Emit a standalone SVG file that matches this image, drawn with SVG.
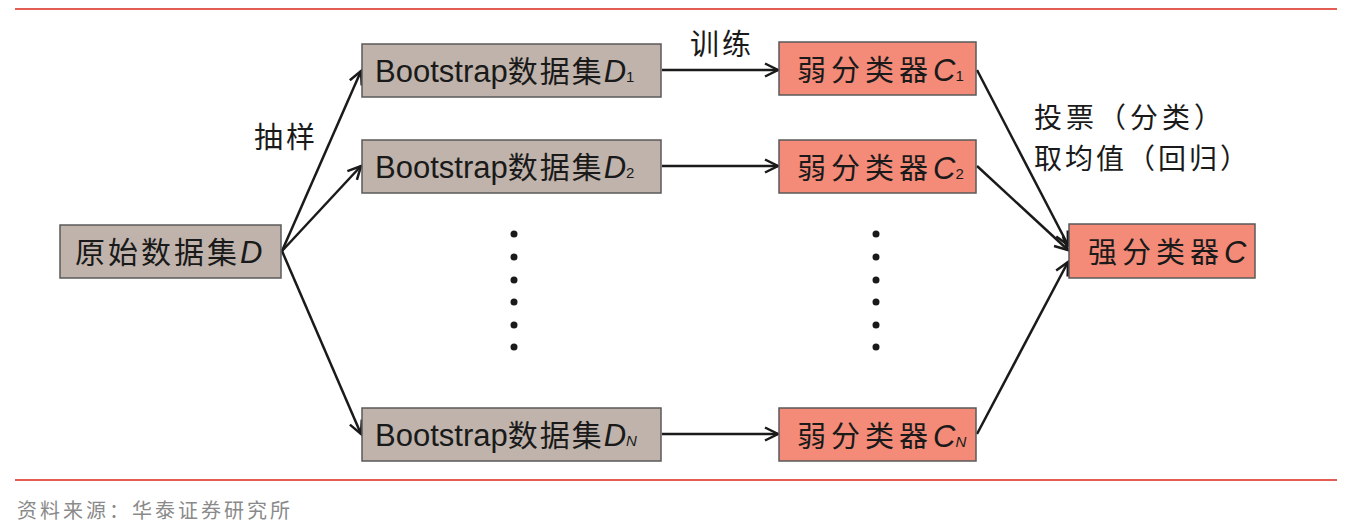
<svg xmlns="http://www.w3.org/2000/svg" width="1350" height="532" viewBox="0 0 1350 532">
<style>
.gray{fill:#bfb3ab;stroke:#5a5a5a;stroke-width:1.5}
.red{fill:#f38b78;stroke:#5a5a5a;stroke-width:1.5}
.cjk{font-family:"Noto Sans CJK SC",sans-serif;font-size:30px;fill:#1a1a1a}
.lat{font-family:"Liberation Sans",Arial,sans-serif;font-size:31px;fill:#1a1a1a}
.it{font-family:"Liberation Sans",Arial,sans-serif;font-style:italic;font-size:31px;fill:#1a1a1a}
.sub{font-family:"Liberation Sans",Arial,sans-serif;font-size:15px;fill:#1a1a1a}
.subi{font-family:"Liberation Sans",Arial,sans-serif;font-style:italic;font-size:15px;fill:#1a1a1a}
.lbl{font-family:"Noto Sans CJK SC",sans-serif;font-size:28px;fill:#1a1a1a}
.edge{stroke:#1a1a1a;stroke-width:2.5;fill:none;marker-end:url(#arr)}
.dot{fill:#1a1a1a}
</style>
<defs>
<marker id="arr" markerUnits="userSpaceOnUse" markerWidth="18" markerHeight="16" refX="14" refY="7.5" orient="auto" viewBox="0 0 18 15">
<path d="M1,1 L14,7.5 L1,14" fill="none" stroke="#1a1a1a" stroke-width="2.5"/>
</marker>
</defs>
<rect width="1350" height="532" fill="#ffffff"/>
<line x1="15" y1="9" x2="1337" y2="9" stroke="#d9291c" stroke-width="1.5"/>
<line x1="15" y1="480" x2="1337" y2="480" stroke="#d9291c" stroke-width="1.5"/>
<text x="17" y="518" style="font-family:'Noto Sans CJK SC',sans-serif;font-size:20px;fill:#8a8a8a;letter-spacing:3px">资料来源：华泰证券研究所</text>

<g id="connectors">
<line class="edge" x1="282" y1="251" x2="361" y2="71"/>
<line class="edge" x1="282" y1="251" x2="361" y2="166"/>
<line class="edge" x1="282" y1="251" x2="361" y2="434"/>
<line class="edge" x1="662" y1="70" x2="778" y2="70"/>
<line class="edge" x1="662" y1="166" x2="778" y2="166"/>
<line class="edge" x1="662" y1="434" x2="778" y2="434"/>
<line class="edge" x1="977" y1="70" x2="1068" y2="245"/>
<line class="edge" x1="977" y1="166" x2="1068" y2="250"/>
<line class="edge" x1="977" y1="434" x2="1068" y2="262"/>
<text class="lbl" x="254" y="148" style="font-size:29px;letter-spacing:3px">抽样</text>
<text class="lbl" x="690" y="55" style="font-size:29px;letter-spacing:3px">训练</text>
<text class="lbl" x="1034" y="128" style="letter-spacing:4px">投票（分类）</text>
<text class="lbl" x="1034" y="169" style="letter-spacing:3px">取均值（回归）</text>
</g>

<g id="dots-left">
<circle class="dot" cx="514" cy="234" r="3.5"/>
<circle class="dot" cx="514" cy="257" r="3.5"/>
<circle class="dot" cx="514" cy="280" r="3.5"/>
<circle class="dot" cx="514" cy="302" r="3.5"/>
<circle class="dot" cx="514" cy="325" r="3.5"/>
<circle class="dot" cx="514" cy="347" r="3.5"/>
</g>
<g id="dots-right">
<circle class="dot" cx="876" cy="234" r="3.5"/>
<circle class="dot" cx="876" cy="257" r="3.5"/>
<circle class="dot" cx="876" cy="280" r="3.5"/>
<circle class="dot" cx="876" cy="302" r="3.5"/>
<circle class="dot" cx="876" cy="325" r="3.5"/>
<circle class="dot" cx="876" cy="347" r="3.5"/>
</g>

<g id="node-D">
<rect class="gray" x="60" y="225" width="221" height="53"/>
<text x="75" y="263"><tspan class="cjk" style="letter-spacing:3px">原始数据集</tspan><tspan class="it">D</tspan></text>
</g>

<g id="node-D1">
<rect class="gray" x="362" y="44" width="299" height="53"/>
<text x="375" y="82"><tspan class="lat">Bootstrap</tspan><tspan class="cjk" style="letter-spacing:2px">数据集</tspan><tspan class="it">D</tspan><tspan class="sub">1</tspan></text>
</g>
<g id="node-D2">
<rect class="gray" x="362" y="140" width="299" height="53"/>
<text x="375" y="178"><tspan class="lat">Bootstrap</tspan><tspan class="cjk" style="letter-spacing:2px">数据集</tspan><tspan class="it">D</tspan><tspan class="sub">2</tspan></text>
</g>
<g id="node-DN">
<rect class="gray" x="362" y="408" width="299" height="53"/>
<text x="375" y="446"><tspan class="lat">Bootstrap</tspan><tspan class="cjk" style="letter-spacing:2px">数据集</tspan><tspan class="it">D</tspan><tspan class="subi">N</tspan></text>
</g>

<g id="node-C1">
<rect class="red" x="779" y="42" width="197" height="53"/>
<text x="797" y="81"><tspan class="cjk" style="font-size:29px;letter-spacing:5px">弱分类器</tspan><tspan class="it">C</tspan><tspan class="sub">1</tspan></text>
</g>
<g id="node-C2">
<rect class="red" x="779" y="140" width="197" height="53"/>
<text x="797" y="179"><tspan class="cjk" style="font-size:29px;letter-spacing:5px">弱分类器</tspan><tspan class="it">C</tspan><tspan class="sub">2</tspan></text>
</g>
<g id="node-CN">
<rect class="red" x="779" y="408" width="197" height="53"/>
<text x="797" y="447"><tspan class="cjk" style="font-size:29px;letter-spacing:5px">弱分类器</tspan><tspan class="it">C</tspan><tspan class="subi">N</tspan></text>
</g>

<g id="node-C">
<rect class="red" x="1069" y="224" width="186" height="54"/>
<text x="1088" y="263"><tspan class="cjk" style="font-size:29px;letter-spacing:5px">强分类器</tspan><tspan class="it">C</tspan></text>
</g>
</svg>
